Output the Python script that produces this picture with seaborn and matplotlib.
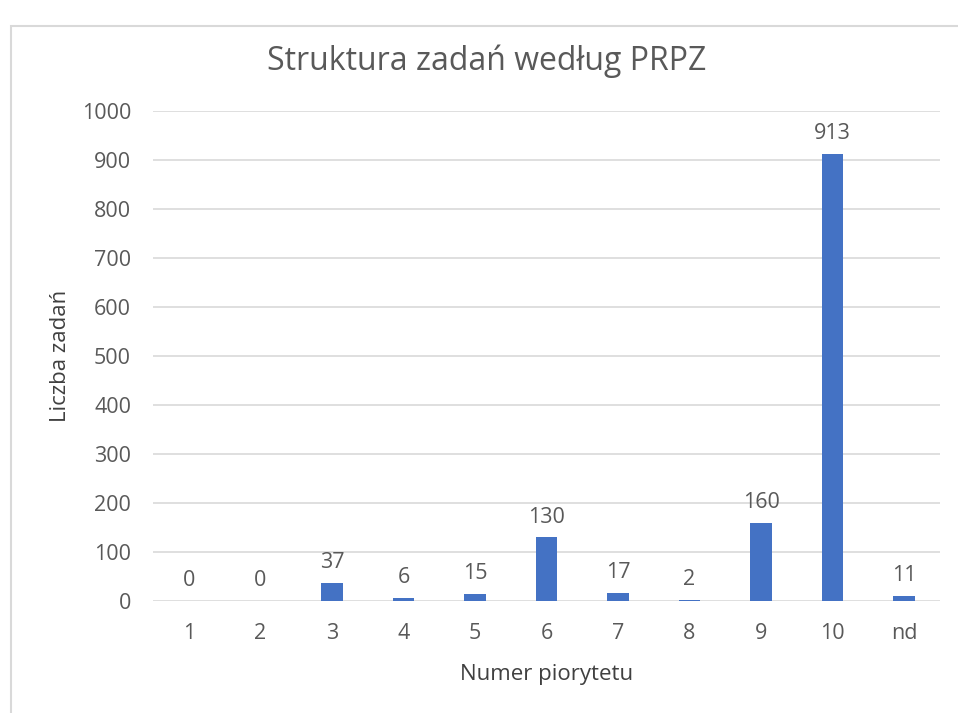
import pandas as pd
import matplotlib.pyplot as plt
import matplotlib.patches as patches
import seaborn as sns

# dane
kategorie = ['1', '2', '3', '4', '5', '6', '7', '8', '9', '10', 'nd']
liczba_zadan = [0, 0, 37, 6, 15, 130, 17, 2, 160, 913, 11]

df = pd.DataFrame({'priorytet': kategorie, 'liczba': liczba_zadan})

sns.set_style('white')
plt.rcParams['font.family'] = ['Open Sans', 'DejaVu Sans']

szary = '#595959'
fs = 15.5
fig = plt.figure(figsize=(9.58, 7.13), dpi=100)
ax = fig.add_axes([0.160, 0.157, 0.821, 0.687])

# ramka wykresu
fig.patches.append(patches.Rectangle((0.011, -0.02), 1.2, 1.003 - 0.02,
                                     transform=fig.transFigure, fill=False,
                                     edgecolor='#d9d9d9', linewidth=1.5))

sns.barplot(data=df, x='priorytet', y='liczba', color='#4472C4',
            saturation=1, width=0.30, linewidth=0, ax=ax)

for i, v in enumerate(liczba_zadan):
    ax.text(i, v + 20, str(v), ha='center', va='bottom', fontsize=fs, color=szary)

ax.set_ylim(0, 1000)
ax.set_xlim(-0.5, 10.5)
ax.set_yticks(range(0, 1001, 100))
ax.yaxis.grid(True, color='#d9d9d9', linewidth=1.2)
ax.set_axisbelow(True)
for s in ax.spines.values():
    s.set_visible(False)
ax.tick_params(axis='both', length=0, labelsize=fs, labelcolor=szary)
ax.tick_params(axis='x', pad=16)
ax.tick_params(axis='y', pad=16)

ax.set_xlabel('Numer piorytetu', fontsize=16, color='#404040', labelpad=14)
ax.set_ylabel('Liczba zadań', fontsize=16, color='#404040', labelpad=8)
fig.text(0.508, 0.914, 'Struktura zadań według PRPZ', ha='center', va='center',
         fontsize=23, color=szary)

plt.savefig('out.png', dpi=100)
